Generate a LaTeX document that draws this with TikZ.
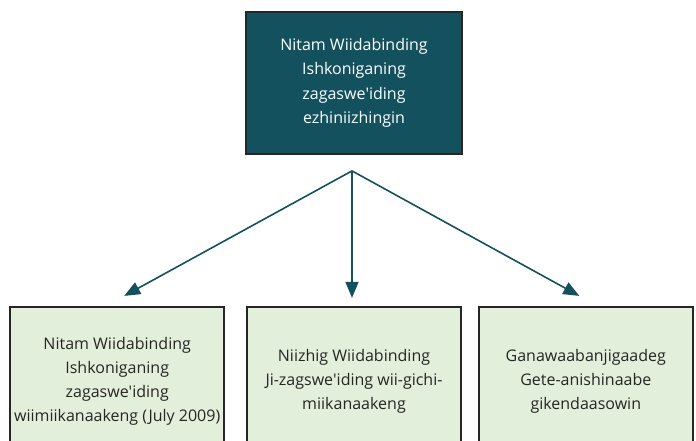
\documentclass[tikz,border=0pt]{standalone}
\usepackage{fontspec}
\setmainfont{Open Sans}
\usetikzlibrary{positioning, arrows.meta, calc}

\definecolor{teal}{HTML}{13515F}
\definecolor{leaf}{HTML}{E2EFDA}
\definecolor{ink}{HTML}{262626}

\newcommand{\apos}{\textquotesingle}

\begin{document}
\begin{tikzpicture}[
    x=1pt, y=-1pt,
    % Styles
    headbox/.style={draw=ink, line width=1.8pt, rectangle, fill=teal, text=white, align=center, minimum width=216pt, minimum height=142pt, font=\fontsize{16}{24.5}\selectfont},
    leafbox/.style={draw=ink, line width=1.8pt, rectangle, fill=leaf, text=ink, align=center, minimum width=214pt, minimum height=150pt, font=\fontsize{16}{24}\selectfont},
    link/.style={draw=teal, line width=1.6pt, -{Triangle[length=16pt, width=13pt]}}
    ]

    % Page frame
    \useasboundingbox (0,0) rectangle (696,441);
    \clip (0,0) rectangle (696,441);

    % 1. Top box
    \node (head) [headbox] at (354,83) {Nitam Wiidabinding \\ Ishkoniganing \\ zagaswe\apos iding \\ ezhiniizhingin};

    % 2. Three boxes below (cut off by the frame)
    \node (mid) [leafbox, below=151pt of head] {Niizhig Wiidabinding \\ Ji-zagswe\apos iding wii-gichi- \\ miikanaakeng};
    \node (lft) [leafbox, left=21pt of mid] {Nitam Wiidabinding \\ Ishkoniganing \\ zagaswe\apos iding \\ wiimiikanaakeng (July 2009)};
    \node (rgt) [leafbox, right=16pt of mid] {Ganawaabanjigaadeg \\ Gete-anishinaabe \\ gikendaasowin};

    % Branch point under the top box
    \coordinate (fork) at ($(head.south)+(-2,16)$);

    % Connections / Arrows
    \draw[link] (fork) -- ($(lft.north)+(7,-10)$);
    \draw[link] (fork) -- ($(mid.north)+(-2,-8)$);
    \draw[link] (fork) -- ($(rgt.north)+(-6.5,-10)$);
\end{tikzpicture}
\end{document}
